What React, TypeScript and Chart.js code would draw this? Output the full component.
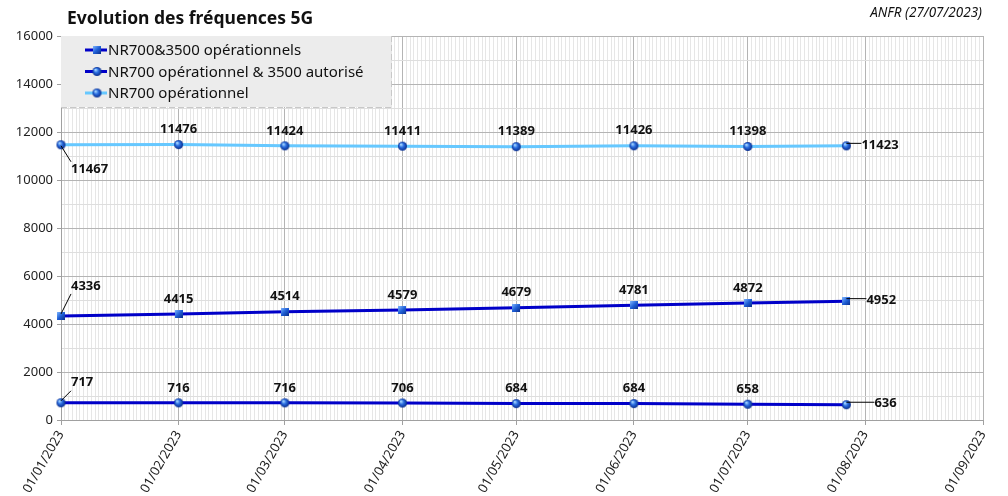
import React, { useEffect, useRef } from 'react';
import Chart from 'chart.js/auto';

// dates of the measurements, dd/mm/yyyy as in the ANFR table
const dates = [
  '01/01/2023', '01/02/2023', '01/03/2023', '01/04/2023',
  '01/05/2023', '01/06/2023', '01/07/2023', '27/07/2023',
];
const nr700And3500 = [4336, 4415, 4514, 4579, 4679, 4781, 4872, 4952];
const nr700And3500Auth = [717, 716, 716, 706, 684, 684, 658, 636];
const nr700Only = [11467, 11476, 11424, 11411, 11389, 11426, 11398, 11423];

const seriesNames = [
  'NR700&3500 opérationnels',
  'NR700 opérationnel & 3500 autorisé',
  'NR700 opérationnel',
];

const axisStart = '01/01/2023';
const axisEnd = '01/09/2023';
const yMax = 16000;

const DARK_BLUE = '#0000c8';
const LIGHT_BLUE = '#66c8ff';
const FONT = '"Noto Sans", "Open Sans", sans-serif';

const toUtc = (s: string) => {
  const [d, m, y] = s.split('/').map(Number);
  return Date.UTC(y, m - 1, d);
};
const DAY = 86400000;
const dayIndex = (s: string) => Math.round((toUtc(s) - toUtc(axisStart)) / DAY);
const lastDay = dayIndex(axisEnd);

const dayDate = (v: number) => new Date(toUtc(axisStart) + v * DAY);
const isMonthStart = (v: number) => dayDate(v).getUTCDate() === 1;
const fmt = (v: number) => {
  const d = dayDate(v);
  const p = (n: number) => String(n).padStart(2, '0');
  return `${p(d.getUTCDate())}/${p(d.getUTCMonth() + 1)}/${d.getUTCFullYear()}`;
};

function sphere(d: number) {
  const c = document.createElement('canvas');
  const s = d + 2;
  c.width = s;
  c.height = s;
  const g = c.getContext('2d')!;
  const r = d / 2;
  const m = s / 2;
  const grad = g.createRadialGradient(m - r * 0.35, m - r * 0.4, r * 0.1, m, m, r);
  grad.addColorStop(0, '#a8d8ff');
  grad.addColorStop(0.45, '#2a6de0');
  grad.addColorStop(1, '#082c8c');
  g.fillStyle = grad;
  g.beginPath();
  g.arc(m, m, r, 0, Math.PI * 2);
  g.fill();
  return c;
}

function cube(d: number) {
  const c = document.createElement('canvas');
  c.width = d;
  c.height = d;
  const g = c.getContext('2d')!;
  const grad = g.createLinearGradient(0, 0, d, d);
  grad.addColorStop(0, '#7fb6ff');
  grad.addColorStop(0.5, '#1f5fd6');
  grad.addColorStop(1, '#0a2c8a');
  g.fillStyle = grad;
  g.fillRect(0, 0, d, d);
  return c;
}

// label tweaks for the first / last point of each series
const labelStyle = [
  { firstDy: -30, lastLead: 20 },
  { firstDy: -20, lastLead: 28 },
  { firstDy: 25, lastLead: 15 },
];

const labelsPlugin = {
  id: 'pointLabels',
  afterDatasetsDraw(chart: Chart) {
    const ctx = chart.ctx;
    ctx.save();
    ctx.font = `bold 13px ${FONT}`;
    ctx.fillStyle = '#111';
    ctx.strokeStyle = '#000';
    ctx.lineWidth = 1;
    ctx.textBaseline = 'middle';
    chart.data.datasets.forEach((ds, i) => {
      const meta = chart.getDatasetMeta(i);
      const st = labelStyle[i];
      meta.data.forEach((pt, j) => {
        const v = String((ds.data[j] as { y: number }).y);
        const { x, y } = pt;
        if (j === 0) {
          const ty = y + st.firstDy;
          ctx.beginPath();
          ctx.moveTo(x, y + (st.firstDy > 0 ? 1 : -2));
          ctx.lineTo(x + 10, ty + (st.firstDy > 0 ? -8 : 8));
          ctx.stroke();
          ctx.textAlign = 'left';
          ctx.fillText(v, x + 10, ty);
        } else if (j === meta.data.length - 1) {
          ctx.beginPath();
          ctx.moveTo(x, y - 2.5);
          ctx.lineTo(x + st.lastLead, y - 2.5);
          ctx.stroke();
          ctx.textAlign = 'left';
          ctx.fillText(v, x + st.lastLead, y - 1);
        } else {
          ctx.textAlign = 'center';
          ctx.fillText(v, x, y - 15);
        }
      });
    });
    ctx.restore();
  },
};

const decorPlugin = {
  id: 'decor',
  afterDraw(chart: Chart) {
    const ctx = chart.ctx;
    const a = chart.chartArea;
    ctx.save();
    // titles
    ctx.fillStyle = '#111';
    ctx.textBaseline = 'middle';
    ctx.font = `bold 17.5px ${FONT}`;
    ctx.textAlign = 'left';
    ctx.fillText('Evolution des fréquences 5G', a.left + 6, 19);
    ctx.font = `italic 13.5px ${FONT}`;
    ctx.textAlign = 'right';
    ctx.fillText('ANFR (27/07/2023)', 982, 13);

    // legend box
    const bx = a.left;
    const by = a.top;
    const bw = 330;
    const bh = 71;
    ctx.fillStyle = '#ececec';
    ctx.fillRect(bx, by, bw, bh);
    ctx.strokeStyle = '#c8c8c8';
    ctx.lineWidth = 1;
    ctx.setLineDash([6, 3]);
    ctx.beginPath();
    ctx.moveTo(bx + bw + 0.5, by);
    ctx.lineTo(bx + bw + 0.5, by + bh + 0.5);
    ctx.lineTo(bx, by + bh + 0.5);
    ctx.stroke();
    ctx.setLineDash([]);

    const legendColors = [DARK_BLUE, DARK_BLUE, LIGHT_BLUE];
    const legendMarks = [cube(8), sphere(9), sphere(9)];
    ctx.font = `15px ${FONT}`;
    ctx.textAlign = 'left';
    legendColors.forEach((col, k) => {
      const ly = by + 14 + k * 21.5;
      ctx.strokeStyle = col;
      ctx.lineWidth = 3;
      ctx.beginPath();
      ctx.moveTo(bx + 24, ly);
      ctx.lineTo(bx + 46, ly);
      ctx.stroke();
      const mk = legendMarks[k];
      ctx.drawImage(mk, bx + 36 - mk.width / 2, ly - mk.height / 2);
      ctx.fillStyle = '#111';
      ctx.fillText(seriesNames[k], bx + 47, ly + 1);
    });
    ctx.restore();
  },
};

export default function App() {
  const canvasRef = useRef<HTMLCanvasElement>(null);

  useEffect(() => {
    document.body.style.margin = '0';
    if (!canvasRef.current) return;
    const xs = dates.map(dayIndex);
    const pts = (vals: number[]) => vals.map((v, k) => ({ x: xs[k], y: v }));

    const chart = new Chart(canvasRef.current, {
      type: 'line',
      data: {
        datasets: [
          {
            label: seriesNames[0],
            data: pts(nr700And3500),
            borderColor: DARK_BLUE,
            borderWidth: 3,
            pointStyle: cube(8),
            pointRadius: 4,
            clip: false,
          },
          {
            label: seriesNames[1],
            data: pts(nr700And3500Auth),
            borderColor: DARK_BLUE,
            borderWidth: 3,
            pointStyle: sphere(9),
            pointRadius: 4,
            clip: false,
          },
          {
            label: seriesNames[2],
            data: pts(nr700Only),
            borderColor: LIGHT_BLUE,
            borderWidth: 3,
            pointStyle: sphere(9),
            pointRadius: 4,
            clip: false,
          },
        ],
      },
      options: {
        animation: false,
        responsive: true,
        maintainAspectRatio: false,
        layout: { padding: { top: 36, right: 25, left: 0, bottom: 0 } },
        plugins: { legend: { display: false }, tooltip: { enabled: false } },
        scales: {
          x: {
            type: 'linear',
            min: 0,
            max: lastDay,
            afterBuildTicks: (scale) => {
              scale.ticks = Array.from({ length: lastDay + 1 }, (_, v) => ({ value: v }));
            },
            afterFit: (scale) => {
              scale.height = 76;
            },
            ticks: {
              autoSkip: false,
              minRotation: 60,
              maxRotation: 60,
              color: '#222',
              font: { family: FONT, size: 13 },
              callback: (v) => (isMonthStart(Number(v)) ? fmt(Number(v)) : ''),
            },
            grid: {
              color: (c) => (c.tick && isMonthStart(c.tick.value) ? '#b4b4b4' : '#e6e6e6'),
              tickColor: (c) => (c.tick && isMonthStart(c.tick.value) ? '#a0a0a0' : 'rgba(0,0,0,0)'),
              tickLength: 5,
            },
            border: { color: '#a0a0a0' },
          },
          y: {
            min: 0,
            max: yMax,
            afterBuildTicks: (scale) => {
              scale.ticks = Array.from({ length: yMax / 1000 + 1 }, (_, k) => ({ value: k * 1000 }));
            },
            afterFit: (scale) => {
              scale.width = 61;
            },
            ticks: {
              color: '#222',
              padding: 4,
              font: { family: FONT, size: 13 },
              callback: (v) => (Number(v) % 2000 === 0 ? String(v) : ''),
            },
            grid: {
              color: (c) => (c.tick && c.tick.value % 2000 === 0 ? '#b4b4b4' : '#dedede'),
              tickColor: (c) => (c.tick && c.tick.value % 2000 === 0 ? '#a0a0a0' : 'rgba(0,0,0,0)'),
              tickLength: 4,
            },
            border: { color: '#a0a0a0' },
          },
        },
      },
      plugins: [labelsPlugin, decorPlugin],
    });

    return () => {
      chart.destroy();
    };
  }, []);

  return (
    <div style={{ position: 'relative', width: 1008, height: 496 }}>
      <canvas ref={canvasRef} />
    </div>
  );
}
